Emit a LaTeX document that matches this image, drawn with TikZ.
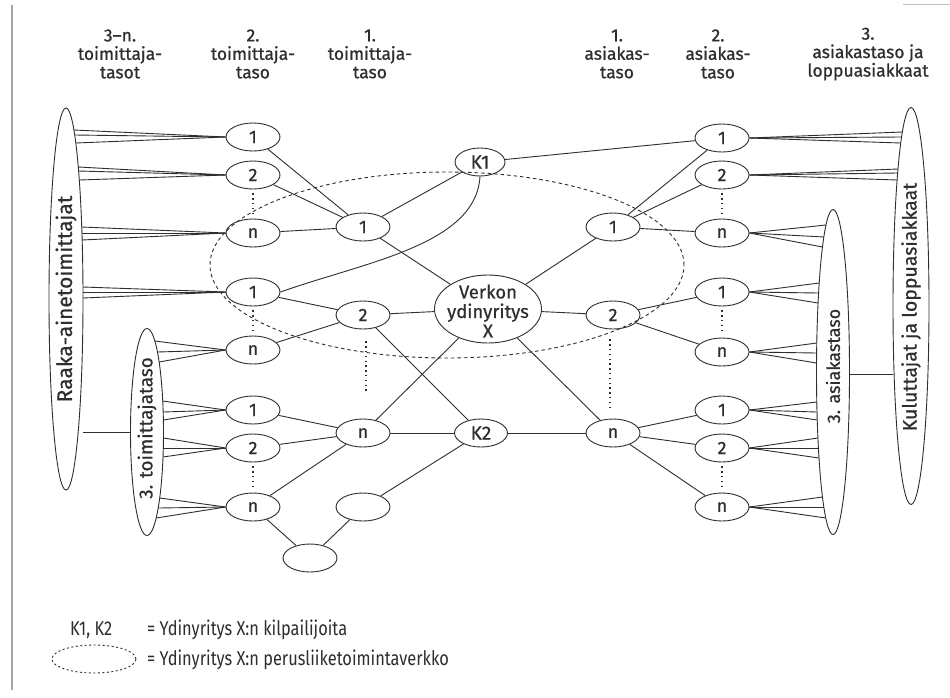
\documentclass[tikz,border=0pt]{standalone}
\usepackage{fontspec}
\setmainfont{Fira Sans}[FakeBold=0.6]
\newfontfamily\hdrfont[FakeBold=0.8]{Fira Sans}
\newfontfamily\legendfont[FakeStretch=0.82]{Fira Sans}
\usetikzlibrary{shapes.geometric}
\definecolor{ink}{HTML}{2E2E2E}
\newcommand\fanL[7]{% #1 node, #2 node y, #3 cx, #4 cy, #5 rx, #6 ry, #7 offsets
  \foreach \d in {#7}{%
    \pgfmathsetmacro\yy{#2+\d}%
    \pgfmathsetmacro\xx{#3+#5*sqrt(1-((\yy-#4)/#6)^2)}%
    \draw[ln] (\xx,\yy) -- (#1.west);
  }}
\newcommand\fanR[7]{%
  \foreach \d in {#7}{%
    \pgfmathsetmacro\yy{#2+\d}%
    \pgfmathsetmacro\xx{#3-#5*sqrt(1-((\yy-#4)/#6)^2)}%
    \draw[ln] (\xx,\yy) -- (#1.east);
  }}
\begin{document}
\begin{tikzpicture}[x=1pt,y=-1pt,
  ln/.style={draw=ink, line width=0.9pt},
  sm/.style={ellipse, draw=ink, line width=0.9pt, minimum width=54pt, minimum height=28pt, inner sep=0pt, font=\fontsize{18}{18}\selectfont, text=ink},
  big/.style={ellipse, draw=ink, line width=0.9pt, inner sep=0pt},
  vtext/.style={rotate=90, text=ink, inner sep=0pt},
  dotv/.style={draw=ink, line width=1.4pt, dash pattern=on 1.3pt off 3.5pt},
  dashell/.style={draw=ink, line width=0.9pt, dash pattern=on 3.5pt off 3pt},
  hdr/.style={align=center, font=\hdrfont\fontsize{17.5}{18.5}\selectfont, text=ink},
  leg/.style={anchor=west, font=\legendfont\fontsize{20}{20}\selectfont, text=ink, inner sep=0pt},
]
\useasboundingbox (0,0) rectangle (950,697);
\fill[white] (0,0) rectangle (950,697);
% border artefacts
\draw[gray!70, line width=1.5pt] (12,5) -- (12,690);
\draw[gray!50, line width=1pt] (903,4) -- (950,4);

% headers
\node[hdr] (h1) at (120,54) {3–n.\\toimittaja-\\tasot};
\node[hdr] (h2) at (253,54) {2.\\toimittaja-\\taso};
\node[hdr] (h3) at (370,54) {1.\\toimittaja-\\taso};
\node[hdr] (h4) at (617,54) {1.\\asiakas-\\taso};
\node[hdr] (h5) at (718,54) {2.\\asiakas-\\taso};
\node[hdr] (h6) at (868,54) {3.\\asiakastaso ja\\loppuasiakkaat};

% big ellipses
\node[big, minimum width=34pt, minimum height=382pt] (raaka) at (66,299) {};
\node[vtext, font=\fontsize{21}{21}\selectfont] (raakat) at (66,299) {Raaka-ainetoimittajat};
\node[big, minimum width=33pt, minimum height=207pt] (tt) at (147,432) {};
\node[vtext, font=\fontsize{19}{19}\selectfont] (ttt) at (147,428) {3. toimittajataso};
\node[big, minimum width=33pt, minimum height=325pt] (ta) at (833,372) {};
\node[vtext, font=\fontsize{18}{18}\selectfont] (tat) at (833,366) {3. asiakastaso};
\node[big, minimum width=36pt, minimum height=397pt] (kul) at (911,306) {};
\node[vtext, font=\fontsize{19.5}{19.5}\selectfont] (kult) at (911,307) {Kuluttajat ja loppuasiakkaat};

% dashed core network
\draw[dashell] (447,265) ellipse [x radius=237pt, y radius=93pt];

% left 2nd tier
\node[sm] (la1) at (253,137) {1};
\node[sm] (la2) at (253,175) {2};
\node[sm] (lan) at (253,233) {n};
\node[sm] (lb1) at (253,292) {1};
\node[sm] (lbn) at (253,350) {n};
\node[sm] (lc1) at (253,410) {1};
\node[sm] (lc2) at (253,448) {2};
\node[sm] (lcn) at (253,507) {n};
\node[sm] (e2) at (310,558) {};
% left 1st tier
\node[sm] (m1) at (363,227) {1};
\node[sm] (m2) at (363,315) {2};
\node[sm] (mn) at (363,433) {n};
\node[sm] (e1) at (363,507) {};
% centre
\node[sm, minimum width=50pt, font=\fontsize{19}{19}\selectfont] (k1) at (480,162) {K1};
\node[sm, minimum width=53pt, font=\fontsize{19}{19}\selectfont] (k2) at (481,433) {K2};
\node[big, minimum width=107pt, minimum height=68pt] (x) at (488,309) {};
\node[align=center, font=\fontsize{18.5}{19.5}\selectfont, text=ink] (xt) at (488,311) {Verkon\\ydinyritys\\X};
% right 1st tier
\node[sm] (r1) at (613,227) {1};
\node[sm] (r2) at (613,315) {2};
\node[sm] (rn) at (613,433) {n};
% right 2nd tier
\node[sm] (sa1) at (722,138) {1};
\node[sm] (sa2) at (722,175) {2};
\node[sm] (san) at (722,233) {n};
\node[sm] (sb1) at (722,292) {1};
\node[sm] (sbn) at (722,352) {n};
\node[sm] (sc1) at (722,410) {1};
\node[sm] (sc2) at (722,448) {2};
\node[sm] (scn) at (722,507) {n};

% fans left
\fanL{la1}{137}{66}{299}{17}{191}{-7,-2,6}
\fanL{la2}{175}{66}{299}{17}{191}{-8,-4,5}
\fanL{lan}{233}{66}{299}{17}{191}{-6,0,7}
\fanL{lb1}{292}{66}{299}{17}{191}{-5,0,6}
\fanL{lbn}{350}{147}{432}{16.5}{103.5}{-9,2,12}
\fanL{lc1}{410}{147}{432}{16.5}{103.5}{-9,2,10}
\fanL{lc2}{448}{147}{432}{16.5}{103.5}{-10,0,9}
\fanL{lcn}{507}{147}{432}{16.5}{103.5}{-9,1,11}
% fans right
\fanR{sa1}{138}{911}{306}{18}{198.5}{-6,-1,5}
\fanR{sa2}{175}{911}{306}{18}{198.5}{-6,-2,5}
\fanR{san}{233}{833}{372}{16.5}{162.5}{-8,4,14}
\fanR{sb1}{292}{833}{372}{16.5}{162.5}{-9,1,11}
\fanR{sbn}{352}{833}{372}{16.5}{162.5}{-9,1,11}
\fanR{sc1}{410}{833}{372}{16.5}{162.5}{-8,2,10}
\fanR{sc2}{448}{833}{372}{16.5}{162.5}{-10,0,10}
\fanR{scn}{507}{833}{372}{16.5}{162.5}{-10,0,11}

% big ellipse links
\draw[ln] (raaka.east |- tt.west) -- (tt.west);
\draw[ln] (ta.east) ++(0,2) coordinate (tae) -- (kul.west |- tae);

% connectors left
\draw[ln] (la1) -- (m1);
\draw[ln] (la2) -- (m1);
\draw[ln] (lan) -- (m1);
\draw[ln] (lb1) -- (m2);
\draw[ln] (lbn) -- (m2);
\draw[ln] (lc1) -- (mn);
\draw[ln] (lc2) -- (mn);
\draw[ln] (lcn) -- (mn);
\draw[ln] (lcn) -- (e2);
\draw[ln] (e2) -- (e1);
\draw[ln] (e1) -- (k2);
% centre
\draw[ln] (m1) -- (k1);
\draw[ln] (m1) -- (x);
\draw[ln] (m2) -- (x);
\draw[ln] (m2) -- (k2);
\draw[ln] (mn) -- (x);
\draw[ln] (mn) -- (k2);
\draw[ln] (k2) -- (rn);
\draw[ln] (k1) -- (sa1);
\draw[ln] (k1.south) .. controls (476,245) and (365,262) .. (lb1.east);
\draw[ln] (x) -- (r1);
\draw[ln] (x) -- (r2);
\draw[ln] (x) -- (rn);
% right
\draw[ln] (r1) -- (sa1);
\draw[ln] (r1) -- (sa2);
\draw[ln] (r1) -- (san);
\draw[ln] (r2) -- (sb1);
\draw[ln] (r2) -- (sbn);
\draw[ln] (rn) -- (sc1);
\draw[ln] (rn) -- (sc2);
\draw[ln] (rn) -- (scn);

% dotted continuation marks
\draw[dotv] (la2.south) ++(0,4) -- ([yshift=4pt]lan.north);
\draw[dotv] (lb1.south) ++(0,4) -- ([yshift=4pt]lbn.north);
\draw[dotv] (lc2.south) ++(0,4) -- ([yshift=4pt]lcn.north);
\draw[dotv] ([xshift=3pt]m2.south) ++(0,12) -- ([xshift=3pt,yshift=28pt]mn.north);
\draw[dotv] ([xshift=-3pt]r2.south) ++(0,10) -- ([xshift=-3pt,yshift=8pt]rn.north);
\draw[dotv] (sa2.south) ++(0,4) -- ([yshift=4pt]san.north);
\draw[dotv] (sb1.south) ++(0,4) -- ([yshift=4pt]sbn.north);
\draw[dotv] (sc2.south) ++(0,4) -- ([yshift=4pt]scn.north);

% legend
\node[leg] (lk) at (70,630) {K1, K2};
\node[leg] (lkt) at (147,630) {= Ydinyritys X:n kilpailijoita};
\draw[dashell, dash pattern=on 2pt off 2.5pt] (94,659) ellipse [x radius=42pt, y radius=14pt];
\node[leg] (lnt) at (147,660) {= Ydinyritys X:n perusliiketoimintaverkko};
\end{tikzpicture}
\end{document}
